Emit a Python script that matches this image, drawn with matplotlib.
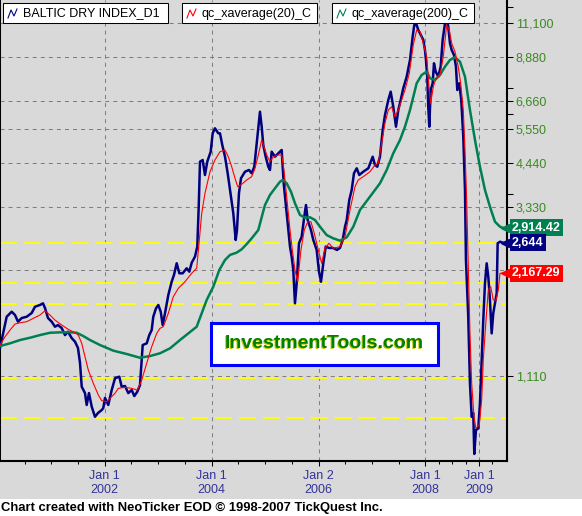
import matplotlib
matplotlib.use('Agg')
import matplotlib.pyplot as plt
from matplotlib.patches import Rectangle
from matplotlib.ticker import FixedLocator, NullFormatter
from matplotlib.transforms import blended_transform_factory, offset_copy

plt.rcParams['font.family'] = ['Liberation Sans', 'DejaVu Sans']
plt.rcParams['lines.scale_dashes'] = False

# Baltic Dry Index (decimal year, index value)
bdi_t = [2000.040, 2000.165, 2000.259, 2000.321, 2000.377, 2000.446, 2000.540, 2000.633, 2000.695, 2000.788,
         2000.844, 2000.882, 2000.938, 2001.007, 2001.069, 2001.125, 2001.194, 2001.256, 2001.312, 2001.381,
         2001.443, 2001.499, 2001.537, 2001.569, 2001.630, 2001.662, 2001.705, 2001.756, 2001.817, 2001.873,
         2001.943, 2001.973, 2002.004, 2002.036, 2002.066, 2002.130, 2002.192, 2002.272, 2002.317, 2002.379,
         2002.440, 2002.504, 2002.553, 2002.609, 2002.659, 2002.710, 2002.785, 2002.833, 2002.878, 2002.908,
         2002.959, 2003.002, 2003.047, 2003.084, 2003.127, 2003.189, 2003.252, 2003.295, 2003.346, 2003.395,
         2003.458, 2003.533, 2003.582, 2003.627, 2003.688, 2003.731, 2003.758, 2003.782, 2003.832, 2003.875,
         2003.918, 2003.982, 2004.019, 2004.062, 2004.124, 2004.156, 2004.199, 2004.250, 2004.300, 2004.343,
         2004.405, 2004.450, 2004.474, 2004.511, 2004.549, 2004.624, 2004.699, 2004.749, 2004.798, 2004.843,
         2004.873, 2004.904, 2004.936, 2004.966, 2005.011, 2005.060, 2005.091, 2005.123, 2005.185, 2005.247,
         2005.310, 2005.348, 2005.385, 2005.423, 2005.466, 2005.497, 2005.527, 2005.559, 2005.591, 2005.634,
         2005.684, 2005.733, 2005.765, 2005.797, 2005.858, 2005.902, 2005.965, 2006.008, 2006.046, 2006.089,
         2006.134, 2006.195, 2006.270, 2006.345, 2006.401, 2006.452, 2006.495, 2006.527, 2006.575, 2006.620,
         2006.663, 2006.714, 2006.762, 2006.837, 2006.931, 2007.013, 2007.056, 2007.099, 2007.149, 2007.200,
         2007.243, 2007.305, 2007.350, 2007.398, 2007.449, 2007.492, 2007.537, 2007.585, 2007.649, 2007.711,
         2007.761, 2007.791, 2007.836, 2007.866, 2007.898, 2007.960, 2007.991, 2008.010, 2008.034, 2008.053,
         2008.072, 2008.098, 2008.135, 2008.160, 2008.192, 2008.240, 2008.285, 2008.322, 2008.366, 2008.397,
         2008.427, 2008.459, 2008.491, 2008.534, 2008.571, 2008.596, 2008.633, 2008.670, 2008.708, 2008.740,
         2008.758, 2008.801, 2008.833, 2008.865, 2008.895, 2008.914, 2008.945, 2008.989, 2009.020, 2009.052,
         2009.082, 2009.114, 2009.146, 2009.176, 2009.207, 2009.239, 2009.269, 2009.301, 2009.333, 2009.351,
         2009.395, 2009.451]
bdi_v = [1332, 1633, 1687, 1651, 1581, 1619, 1633, 1673, 1743, 1763,
         1782, 1728, 1619, 1581, 1530, 1547, 1517, 1449, 1481, 1421,
         1388, 1332, 1208, 1035, 993, 919, 993, 909, 851, 872,
         889, 901, 962, 939, 919, 1013, 1094, 1105, 1035, 1040,
         993, 1013, 974, 1002, 1046, 1358, 1373, 1449, 1497, 1633,
         1725, 1763, 1687, 1547, 1670, 1881, 2051, 2143, 2313, 2167,
         2167, 2239, 2190, 2322, 2415, 2578, 3344, 4483, 4533, 4111,
         4483, 4785, 5394, 5572, 5394, 5394, 4998, 4631, 4157, 3728,
         3203, 2692, 2873, 3649, 4024, 4200, 4247, 4157, 4339, 5054,
         5631, 6208, 5631, 4998, 4631, 4339, 4247, 4785, 4631, 4735,
         4838, 3894, 3419, 3001, 2578, 2415, 2214, 1782, 2030, 2634,
         2750, 3133, 3381, 3066, 2873, 2692, 2523, 2190, 2051, 2313,
         2578, 2556, 2556, 2523, 2556, 2692, 2935, 3066, 3493, 3728,
         4157, 4294, 4111, 4200, 4294, 4631, 4387, 4339, 4631, 5511,
         6076, 6699, 7073, 6413, 5631, 6277, 6699, 7232, 7800, 8697,
         10119, 10921, 10921, 10570, 10346, 9904, 9281, 8697, 7800, 6413,
         5631, 7152, 7471, 8512, 8058, 7800, 8325, 9904, 11043, 11428,
         10800, 9694, 9281, 8984, 8325, 7152, 7471, 6699, 5276, 3728,
         2363, 1633, 1058, 851, 871, 668, 781, 789, 929, 1231,
         1598, 2030, 2313, 2119, 1821, 1465, 1670, 1782, 1902, 2634,
         2662, 2644]

# qc_xaverage(20)
ema20_t = [2000.040, 2000.134, 2000.227, 2000.321, 2000.414, 2000.540, 2000.663, 2000.788, 2000.882, 2000.975,
           2001.069, 2001.194, 2001.318, 2001.443, 2001.505, 2001.569, 2001.630, 2001.692, 2001.786, 2001.879,
           2001.943, 2002.036, 2002.130, 2002.192, 2002.253, 2002.379, 2002.504, 2002.609, 2002.691, 2002.785,
           2002.878, 2002.972, 2003.033, 2003.095, 2003.189, 2003.282, 2003.376, 2003.501, 2003.627, 2003.720,
           2003.758, 2003.814, 2003.875, 2003.969, 2004.062, 2004.156, 2004.250, 2004.311, 2004.375, 2004.437,
           2004.487, 2004.562, 2004.656, 2004.749, 2004.811, 2004.873, 2004.936, 2004.979, 2005.030, 2005.091,
           2005.153, 2005.247, 2005.310, 2005.353, 2005.404, 2005.466, 2005.509, 2005.559, 2005.610, 2005.671,
           2005.733, 2005.797, 2005.858, 2005.920, 2005.995, 2006.059, 2006.120, 2006.195, 2006.276, 2006.401,
           2006.495, 2006.588, 2006.682, 2006.743, 2006.837, 2006.962, 2007.056, 2007.118, 2007.181, 2007.243,
           2007.305, 2007.368, 2007.430, 2007.492, 2007.555, 2007.617, 2007.698, 2007.772, 2007.836, 2007.898,
           2007.960, 2008.023, 2008.066, 2008.098, 2008.147, 2008.197, 2008.272, 2008.334, 2008.397, 2008.446,
           2008.491, 2008.553, 2008.614, 2008.659, 2008.708, 2008.740, 2008.771, 2008.801, 2008.833, 2008.865,
           2008.908, 2008.945, 2009.007, 2009.052, 2009.082, 2009.133, 2009.176, 2009.221, 2009.269, 2009.320,
           2009.363, 2009.395, 2009.451]
ema20_v = [1358, 1433, 1497, 1557, 1570, 1581, 1616, 1651, 1698, 1651,
           1598, 1547, 1504, 1471, 1449, 1373, 1258, 1154, 1058, 981,
           945, 939, 970, 992, 1024, 1031, 1024, 1013, 1081, 1205,
           1343, 1465, 1514, 1530, 1670, 1860, 1965, 2051, 2167, 2239,
           2578, 3203, 3649, 4200, 4533, 4785, 4838, 4631, 4339, 4024,
           3809, 3869, 3979, 4066, 4294, 4683, 5164, 4943, 4683, 4483,
           4631, 4683, 4683, 4247, 3569, 2873, 2523, 2214, 2051, 2523,
           2873, 3032, 3032, 2811, 2523, 2313, 2551, 2634, 2551, 2578,
           2750, 3273, 3809, 3979, 4066, 4200, 4387, 4436, 5054, 5757,
           6277, 6413, 6009, 6277, 6699, 7152, 7975, 9587, 10570, 10454,
           9694, 8885, 7308, 6557, 7308, 7719, 7886, 8885, 10921, 10570,
           9694, 9179, 8325, 7471, 6277, 4838, 3493, 2262, 1465, 1058,
           851, 789, 807, 949, 1231, 1598, 1943, 1986, 1821, 1821,
           1943, 2167, 2167.29]

# qc_xaverage(200)
ema200_t = [2000.040, 2000.227, 2000.414, 2000.601, 2000.788, 2000.975, 2001.163, 2001.350, 2001.475, 2001.598,
            2001.724, 2001.911, 2002.160, 2002.410, 2002.659, 2002.846, 2003.033, 2003.221, 2003.408, 2003.563,
            2003.720, 2003.814, 2003.907, 2004.031, 2004.143, 2004.250, 2004.343, 2004.468, 2004.562, 2004.656,
            2004.749, 2004.873, 2004.947, 2004.998, 2005.091, 2005.185, 2005.279, 2005.329, 2005.404, 2005.484,
            2005.559, 2005.653, 2005.746, 2005.840, 2005.933, 2006.027, 2006.152, 2006.276, 2006.401, 2006.527,
            2006.650, 2006.775, 2006.962, 2007.149, 2007.275, 2007.398, 2007.524, 2007.617, 2007.711, 2007.836,
            2007.929, 2008.023, 2008.085, 2008.178, 2008.272, 2008.366, 2008.459, 2008.553, 2008.646, 2008.740,
            2008.833, 2008.927, 2009.020, 2009.114, 2009.207, 2009.301, 2009.395, 2009.451]
ema200_v = [1349, 1373, 1403, 1424, 1449, 1471, 1475, 1475, 1471, 1440,
            1403, 1358, 1309, 1281, 1250, 1264, 1287, 1329, 1403, 1465,
            1530, 1670, 1821, 1986, 2214, 2363, 2442, 2479, 2534, 2622,
            2721, 2873, 3168, 3381, 3609, 3770, 3935, 3979, 3894, 3687,
            3419, 3168, 3113, 3121, 3066, 2935, 2780, 2721, 2680, 2739,
            2935, 3273, 3569, 3894, 4247, 4735, 5164, 5631, 6277, 7471,
            7886, 8058, 7719, 7634, 7886, 8325, 8697, 8850, 8601, 7800,
            6277, 5164, 4339, 3728, 3344, 3032, 2935, 2914.42]

# yellow horizontal levels
levels = [2634, 2030, 1774, 1096, 843]

y_ticks = [1110, 2220, 3330, 4440, 5550, 6660, 8880, 11100]
y_minor = [3630, 6115, 7245, 12250]
x_ticks = [2002, 2004, 2006, 2008, 2009]
x_labels = ['Jan 1\n2002', 'Jan 1\n2004', 'Jan 2\n2006', 'Jan 1\n2008', 'Jan 1\n2009']
x_minor = [2000.5, 2001, 2001.5, 2002.5, 2003, 2003.5, 2004.5, 2005, 2005.5,
           2006.5, 2007, 2007.5, 2008.25, 2008.5, 2008.75, 2009.25]

series_names = ['BALTIC DRY INDEX_D1', 'qc_xaverage(20)_C', 'qc_xaverage(200)_C']
last_text = ['2,914.42', '2,644', '2,167.29']
last_vals = [2914.42, 2644, 2167.29]

navy = '#000080'
red = '#FF0000'
green = '#008050'
bg = '#D9D9D9'

W, H = 582, 516
fig = plt.figure(figsize=(W / 100, H / 100), dpi=100, facecolor=bg)
ax = fig.add_axes([0, 55 / H, 507 / W, 461 / H])
ax.set_facecolor(bg)

ax.set_yscale('log')
ax.set_xlim(2000.04, 2009.526)
ax.set_ylim(638, 12853)

for v in levels:
    ax.axhline(v, color='#FFFF00', lw=1.3, linestyle=(0, (12.2, 5.0)), zorder=1.5)

ax.plot(bdi_t, bdi_v, color=navy, lw=1.8, zorder=3)
ax.plot(ema200_t, ema200_v, color=green, lw=1.8, zorder=3.5)
ax.plot(ema20_t, ema20_v, color=red, lw=0.8, zorder=4)

# axes / ticks
ax.spines['top'].set_visible(False)
ax.spines['left'].set_linewidth(0.75)
ax.spines['bottom'].set_linewidth(1.5)
ax.spines['right'].set_linewidth(1.5)

ax.yaxis.tick_right()
ax.yaxis.set_major_locator(FixedLocator(y_ticks))
ax.yaxis.set_minor_locator(FixedLocator(y_minor))
ax.yaxis.set_minor_formatter(NullFormatter())
ax.set_yticklabels(['' if v == 2220 else f'{v:,}' for v in y_ticks])
ax.tick_params(axis='y', which='major', length=4.3, width=0.75, pad=2,
               labelsize=9, labelcolor='#3a8a20', color='black')
ax.tick_params(axis='y', which='minor', length=4.3, width=0.75, color='black')

ax.set_xticks(x_ticks)
ax.set_xticklabels(x_labels)
ax.xaxis.set_minor_locator(FixedLocator(x_minor))
ax.tick_params(axis='x', which='major', length=3.6, width=0.75, pad=3,
               labelsize=9, labelcolor='#333399', color='black')
ax.tick_params(axis='x', which='minor', length=2.2, width=0.75, color='black')

ax.grid(True, which='major', color='#808080', linestyle=(0, (2.9, 2.9)), linewidth=0.75, zorder=1)
ax.set_axisbelow(True)

# last value tags on the right axis
trans = blended_transform_factory(ax.transAxes, ax.transData)
tri = offset_copy(trans, fig=fig, x=-2, y=0, units='dots')
for txt, val, col in zip(last_text, last_vals, [green, navy, red]):
    ax.annotate(txt, xy=(1, val), xycoords=trans, xytext=(5, 0), textcoords='offset pixels',
                ha='left', va='center', fontsize=9, fontweight='bold', color='white',
                bbox=dict(boxstyle='square,pad=0.2', fc=col, ec='none'), annotation_clip=False)
    ax.plot([1], [val], marker='<', ms=6, color=col, transform=tri, clip_on=False, zorder=6)

# overlay in pixel coordinates
ov = fig.add_axes([0, 0, 1, 1], zorder=10)
ov.set_xlim(0, W)
ov.set_ylim(H, 0)
ov.axis('off')
ov.patch.set_alpha(0)

for x0, x1, col, name in zip([3, 182, 332], [168, 317, 474], [navy, red, green], series_names):
    ov.add_patch(Rectangle((x0, 3), x1 - x0, 20, fc='white', ec='black', lw=0.75))
    ov.plot([x0 + 5, x0 + 8, x0 + 11, x0 + 14], [18, 10, 16, 9], color=col, lw=0.8)
    ov.text(x0 + 20, 13.5, name, fontsize=9, va='center', ha='left', color='black')

ov.add_patch(Rectangle((211, 323), 227, 42, fc='white', ec='#0000FF', lw=2.2))
ov.text(323.4, 344.3, 'InvestmentTools.com', fontsize=14, fontweight='bold', color='#C8C800',
        ha='center', va='center')
ov.text(324, 344, 'InvestmentTools.com', fontsize=14, fontweight='bold', color='#008000',
        ha='center', va='center')

ov.add_patch(Rectangle((0, 499), W, H - 499, fc='white', ec='none'))
ov.text(1, 508, 'Chart created with NeoTicker EOD \u00a9 1998-2007 TickQuest Inc.',
        fontsize=9.4, fontweight='bold', va='center', ha='left', color='black')

fig.savefig('out.png', dpi=100, facecolor=bg)
